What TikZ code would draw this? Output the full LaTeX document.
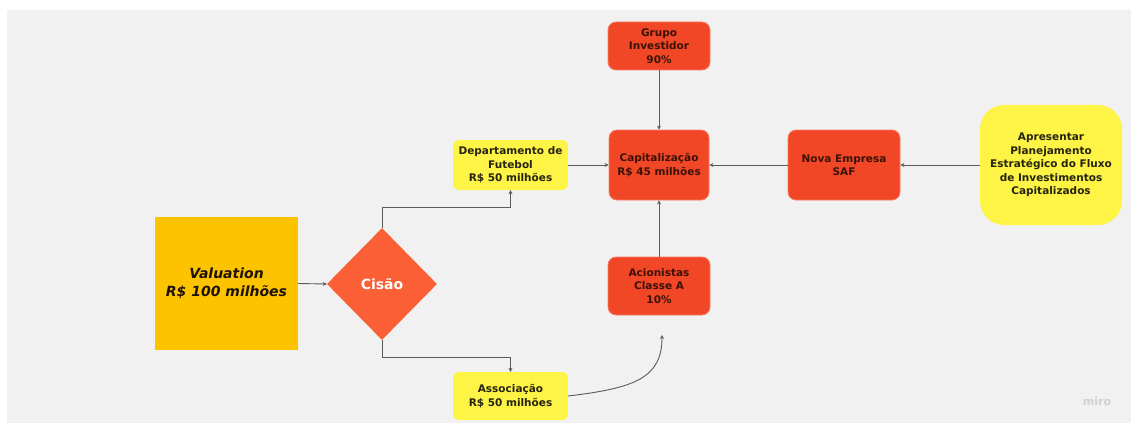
\documentclass[tikz,border=0pt]{standalone}
\usepackage{fontspec}
\setmainfont{DejaVu Sans}
\usetikzlibrary{shapes.geometric,arrows.meta,calc}
\definecolor{bgc}{HTML}{F1F1F1}
\definecolor{valc}{HTML}{FDC200}
\definecolor{diac}{HTML}{FB5F35}
\definecolor{redc}{HTML}{F24726}
\definecolor{yelc}{HTML}{FEF445}
\definecolor{linec}{HTML}{5A5A5A}
\definecolor{redtxt}{HTML}{3A1208}
\definecolor{yeltxt}{HTML}{262410}
\begin{document}
\begin{tikzpicture}[x=1pt,y=-1pt,
  boxtxt/.style={font=\bfseries\fontsize{10.5}{13.5}\selectfont, align=center, inner sep=2pt},
  redbox/.style={boxtxt, fill=redc, text=redtxt, rounded corners=8pt, draw=redc!70!white, line width=0.8pt},
  yelbox/.style={boxtxt, fill=yelc, text=yeltxt, rounded corners=6pt},
  conn/.style={draw=linec, line width=0.9pt, -{Stealth[length=4pt,width=4pt]}}
]
\useasboundingbox (0,0) rectangle (1131,425);
\fill[white] (0,0) rectangle (1131,425);
\fill[bgc] (7,10) rectangle (1131,423);

\node[fill=valc, minimum width=143pt, minimum height=133pt, align=center,
      font=\bfseries\itshape\fontsize{14}{18}\selectfont, text=black!85!brown] (val) at (226.5,283.5) {Valuation\\R\$ 100 milhões};
\node[diamond, fill=diac, minimum width=110pt, minimum height=112pt, inner sep=0pt,
      text=white, font=\bfseries\fontsize{14}{16}\selectfont] (cis) at (382,284) {Cisão};
\node[yelbox, minimum width=115pt, minimum height=50pt] (dept) at (510.5,165) {Departamento de\\Futebol\\R\$ 50 milhões};
\node[yelbox, minimum width=115pt, minimum height=48pt] (asso) at (510.5,396) {Associação\\R\$ 50 milhões};
\node[redbox, minimum width=100pt, minimum height=70pt] (cap) at (659,165) {Capitalização\\R\$ 45 milhões};
\node[redbox, minimum width=102pt, minimum height=48pt] (grp) at (659,46) {Grupo\\Investidor\\90\%};
\node[redbox, minimum width=102pt, minimum height=58pt] (aci) at (659,286) {Acionistas\\Classe A\\10\%};
\node[redbox, minimum width=112pt, minimum height=70pt] (nova) at (844,165) {Nova Empresa\\SAF};
\node[yelbox, rounded corners=24pt, minimum width=142pt, minimum height=120pt] (apr) at (1051,165) {Apresentar\\Planejamento\\Estratégico do Fluxo\\de Investimentos\\Capitalizados};
\node[text=black!18, font=\bfseries\fontsize{11}{12}\selectfont] (miro) at (1097,401) {miro};

\coordinate (curveend) at (662,335);

\draw[conn] (val.east) -- (cis.west);
\draw[conn] (cis.north) -- ++(0,-20) -| (dept.south);
\draw[conn] (cis.south) -- ++(0,17) -| (asso.north);
\draw[conn] (dept.east) -- (cap.west);
\draw[conn] (grp.south) -- (cap.north);
\draw[conn] (aci.north) -- (cap.south);
\draw[conn] (nova.west) -- (cap.east);
\draw[conn] (apr.west) -- (nova.east);
\draw[conn] (asso.east) .. controls (635,388) and (662,378) .. (curveend);
\end{tikzpicture}
\end{document}
